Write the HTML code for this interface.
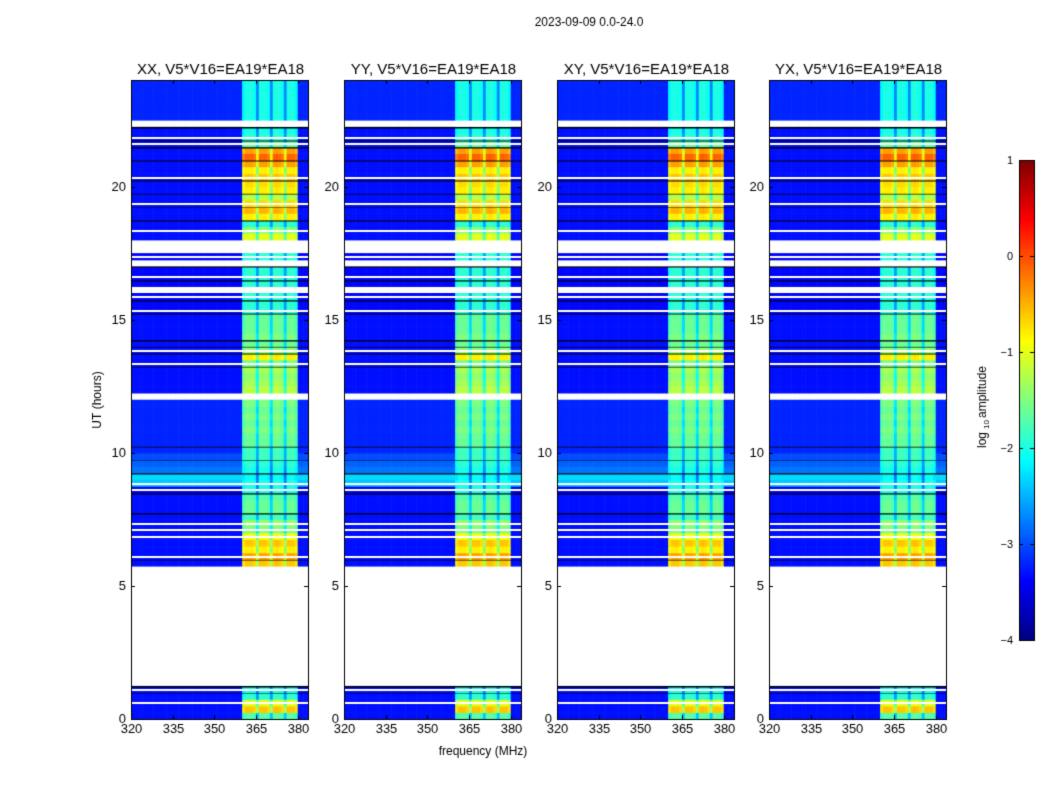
<!DOCTYPE html>
<html><head><meta charset="utf-8">
<style>
body{margin:0;background:#fff;width:1050px;height:800px;overflow:hidden;font-family:"Liberation Sans",sans-serif;}
#wrap{position:relative;width:1050px;height:800px;}
canvas{position:absolute;left:0;top:0;}
</style></head>
<body>
<div id="wrap">
<canvas id="c" width="1050" height="800"></canvas>
</div>
<script>
// ---- data ----
const panelTitles = ["XX, V5*V16=EA19*EA18","YY, V5*V16=EA19*EA18","XY, V5*V16=EA19*EA18","YX, V5*V16=EA19*EA18"];
const panelOffsets = [0, 0, 0, 0];
const xTicks = [320,335,350,365,380];
const yTicks = [0,5,10,15,20];
const cbTicks = [1,0,-1,-2,-3,-4];
// band log amplitude per 0.25 h row (96 rows); null = missing
const bandLevel = [-1.7,-0.6,-1.0,-1.9,-2.0,null,null,null,null,null,null,null,null,null,null,null,null,null,null,null,null,null,null,
 -0.6,-0.4,-0.8,-0.6,-0.9,-1.5,-1.4,-1.8,-1.6,-1.6,-1.7,-2.0,-2.0,-2.1,-2.0,-1.9,-1.8,-1.8,-1.6,-1.6,-1.5,-1.6,-1.5,-1.6,-1.5,
 null,-1.2,-1.3,-1.4,-1.3,-1.5,-0.8,-1.4,-1.6,-1.5,-1.6,-1.6,-1.6,-1.9,-1.9,-1.9,-1.9,-1.9,-1.9,-1.9,-1.9,-1.9,-1.9,-1.9,
 -1.0,-1.4,-1.9,-0.8,-0.5,-0.7,-1.2,-0.8,-0.7,-0.6,-0.8,-0.4,-0.1,-0.4,-1.6,-1.9,-2.0,null,-2.0,-2.0,-2.0,-2.0,-2.0,-2.0];
const bgLevel = [-3.3,-3.3,-3.3,-3.3,-3.3,-3.3,-3.3,-3.3,-3.3,-3.3,-3.3,-3.3,-3.3,-3.3,-3.3,-3.3,-3.3,-3.3,-3.3,-3.3,-3.3,-3.3,-3.3,
 -3.3,-3.3,-3.3,-3.3,-3.3,-3.3,-3.3,-3.3,-3.3,-3.3,-3.3,-3.4,-2.4,-2.3,-2.8,-2.9,-3.0,-3.2,-3.2,-3.2,-3.2,-3.2,-3.2,-3.2,-3.2,
 -3.3,-3.3,-3.3,-3.3,-3.3,-3.3,-3.3,-3.3,-3.3,-3.3,-3.3,-3.3,-3.3,-3.35,-3.35,-3.35,-3.35,-3.35,-3.35,-3.35,-3.35,-3.35,-3.35,-3.35,
 -3.3,-3.3,-3.3,-3.3,-3.3,-3.3,-3.3,-3.3,-3.3,-3.3,-3.3,-3.3,-3.3,-3.3,-3.3,-3.3,-3.3,-3.3,-3.2,-3.2,-3.2,-3.2,-3.2,-3.2];
// 0 none, 1 thin black line, 2 missing (white), 3 thin white line, 4 black+white
const rowFlag = [0,0,3,1,4,2,2,2,2,2,2,2,2,2,2,2,2,2,2,2,2,2,2,
 1,3,0,0,3,3,3,1,0,0,1,3,3,1,0,1,0,1,0,0,0,0,0,0,0,
 2,0,0,0,1,3,1,4,1,0,0,0,1,3,1,3,2,1,3,1,2,3,2,2,
 0,3,1,0,1,3,1,0,1,3,0,1,0,1,4,3,1,2,0,0,0,0,0,0];
// per 1-MHz column offset inside the bright band (320..383 MHz); null = outside band
const colProfile = [null,null,null,null,null,null,null,null,null,null,null,null,null,null,null,null,null,null,null,null,
 null,null,null,null,null,null,null,null,null,null,null,null,null,null,null,null,null,null,null,null,
 -0.15,0,0,0,-0.1,-0.7,0,0,0,-0.1,-0.7,0,0.05,0,-0.1,-0.7,0,0,0,-0.15,null,null,null,null];

// ---- drawing ----
const c=document.getElementById('c'),g=c.getContext('2d');
function jet(v){let t=(v+4)/5;t=Math.max(0,Math.min(1,t));
 const f=x=>Math.max(0,Math.min(1,x));
 const r=f(1.5-Math.abs(4*t-3)),gg=f(1.5-Math.abs(4*t-2)),b=f(1.5-Math.abs(4*t-1));
 return `rgb(${Math.round(r*255)},${Math.round(gg*255)},${Math.round(b*255)})`;}
const panelX=[131,344,557,769], PW=177, PT=80, PB=719;
const F0=320,F1=383.7,T0=0,T1=24;
const rowH=0.25;
function sx(p,f){return panelX[p]+(f-F0)/(F1-F0)*PW;}
function sy(t){return PB-(t-T0)/(T1-T0)*(PB-PT);}
g.fillStyle='#fff';g.fillRect(0,0,1050,800);
for(let p=0;p<4;p++){
 for(let i=0;i<bandLevel.length;i++){
  const y0=sy((i+1)*rowH),y1=sy(i*rowH);
  if(rowFlag[i]===2||bandLevel[i]===null){g.fillStyle='#fff';g.fillRect(panelX[p],y0,PW,y1-y0);continue;}
  for(let j=0;j<colProfile.length;j++){
   const fa=F0+j,fb=Math.min(F0+j+1,F1);
   const v=colProfile[j]===null?bgLevel[i]:bandLevel[i]+colProfile[j];
   g.fillStyle=jet(v+panelOffsets[p]);
   const xa=sx(p,fa),xb=sx(p,fb);
   g.fillRect(xa,y0,xb-xa+0.6,y1-y0+0.6);
  }
  if(rowFlag[i]===1||rowFlag[i]===4){g.fillStyle='#000';g.fillRect(panelX[p],Math.round(y0),PW,1.5);}
  if(rowFlag[i]===3||rowFlag[i]===4){g.fillStyle='#fff';g.fillRect(panelX[p],Math.round((y0+y1)/2),PW,2);}
 }
 g.strokeStyle='#000';g.lineWidth=1;g.strokeRect(panelX[p]+0.5,PT+0.5,PW,PB-PT);
 g.fillStyle='#000';g.font='13px "Liberation Sans", sans-serif';g.textAlign='center';g.textBaseline='top';
 xTicks.forEach(t=>{const x=Math.round(sx(p,t))+0.5;
  g.beginPath();g.moveTo(x,PB);g.lineTo(x,PB-4);g.moveTo(x,PT);g.lineTo(x,PT+4);g.stroke();
  g.fillText(String(t),x,PB+4);});
 g.textAlign='right';g.textBaseline='middle';
 yTicks.forEach(t=>{const y=Math.round(sy(t))+0.5;
  g.beginPath();g.moveTo(panelX[p],y);g.lineTo(panelX[p]+4,y);g.moveTo(panelX[p]+PW,y);g.lineTo(panelX[p]+PW-4,y);g.stroke();
  g.fillText(String(t),panelX[p]-5,y);});
 g.font='15px "Liberation Sans", sans-serif';g.textAlign='center';g.textBaseline='alphabetic';
 g.fillText(panelTitles[p],panelX[p]+PW/2+1,74);
}
// colorbar
const cbX=1019,cbW=15,cbT=160,cbB=640;
for(let y=cbT;y<cbB;y++){const v=1-(y-cbT)/(cbB-cbT)*5;g.fillStyle=jet(v);g.fillRect(cbX,y,cbW,1);}
g.strokeStyle='#000';g.strokeRect(cbX+0.5,cbT+0.5,cbW,cbB-cbT);
g.font='11px "Liberation Sans", sans-serif';g.textAlign='right';g.textBaseline='middle';g.fillStyle='#000';
cbTicks.forEach(t=>{const y=Math.round(cbB-(t+4)/5*(cbB-cbT))+0.5;
 g.beginPath();g.moveTo(cbX,y);g.lineTo(cbX+4,y);g.moveTo(cbX+cbW,y);g.lineTo(cbX+cbW-4,y);g.stroke();
 g.fillText(t<0?'\u2212'+(-t):String(t),1013,y);});
// labels
g.font='12px "Liberation Sans", sans-serif';g.textAlign='center';g.textBaseline='alphabetic';
g.fillText('2023-09-09 0.0-24.0',589,26);
g.fillText('frequency (MHz)',483,755);
g.save();g.translate(101,400);g.rotate(-Math.PI/2);g.fillText('UT (hours)',0,0);g.restore();
g.save();g.translate(986,400);g.rotate(-Math.PI/2);g.textAlign='left';
g.fillText('log',-48,0);g.font='8px "Liberation Sans", sans-serif';g.fillText('10',-29,3);
g.font='12px "Liberation Sans", sans-serif';g.fillText('amplitude',-18,0);g.restore();
</script>
</body></html>
